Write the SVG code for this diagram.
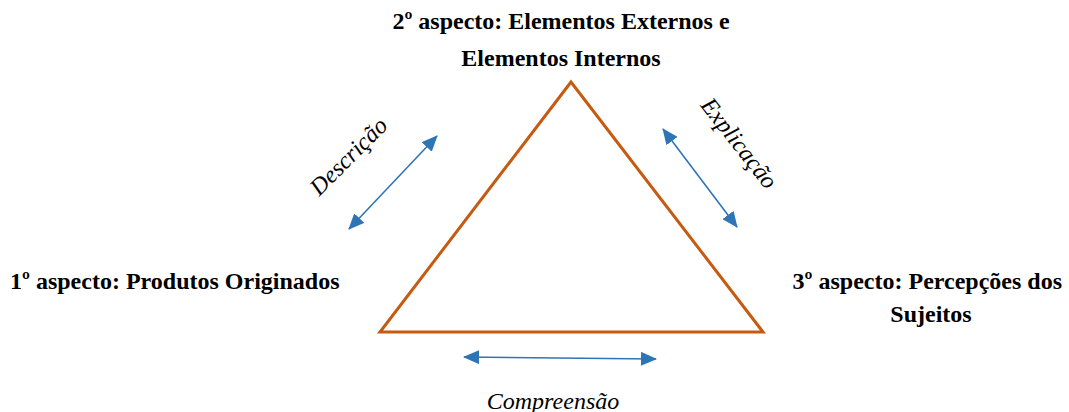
<svg xmlns="http://www.w3.org/2000/svg" width="1069" height="412" viewBox="0 0 1069 412">
<style>
.lbl{font-family:"Liberation Serif","Times New Roman",serif;font-weight:bold;font-size:24px;fill:#000}
.it{font-family:"Liberation Serif","Times New Roman",serif;font-style:italic;font-size:24px;fill:#000}
.arr{stroke:#2e75b6;stroke-width:1.6;fill:none;marker-start:url(#ah);marker-end:url(#ah)}
</style>
<defs>
<marker id="ah" viewBox="0 0 16 14" refX="15" refY="7" markerWidth="16" markerHeight="14" markerUnits="userSpaceOnUse" orient="auto-start-reverse">
<path d="M0,0 L16,7 L0,14 z" fill="#2e75b6"/>
</marker>
</defs>
<rect width="1069" height="412" fill="#fff"/>
<g id="triangle">
<polygon points="571,82 380,332 763,332" fill="none" stroke="#c55a11" stroke-width="3" stroke-linejoin="miter"/>
</g>
<g id="node-2">
<text class="lbl" x="561" y="29" text-anchor="middle">2º aspecto: Elementos Externos e</text>
<text class="lbl" x="561" y="66" text-anchor="middle">Elementos Internos</text>
</g>
<g id="node-1">
<text class="lbl" x="10" y="289">1º aspecto: Produtos Originados</text>
</g>
<g id="node-3">
<text class="lbl" x="1062" y="289" text-anchor="end">3º aspecto: Percepções dos</text>
<text class="lbl" x="931" y="322" text-anchor="middle">Sujeitos</text>
</g>
<g id="connectors">
<line class="arr" x1="349" y1="229" x2="437" y2="136"/>
<line class="arr" x1="663" y1="129" x2="737" y2="227"/>
<line class="arr" x1="464" y1="357" x2="656" y2="359"/>
</g>
<g id="labels">
<text class="it" transform="translate(354,162) rotate(-45)" text-anchor="middle">Descrição</text>
<text class="it" transform="translate(733,148) rotate(52)" text-anchor="middle">Explicação</text>
<text class="it" x="553" y="409" text-anchor="middle">Compreensão</text>
</g>
</svg>
